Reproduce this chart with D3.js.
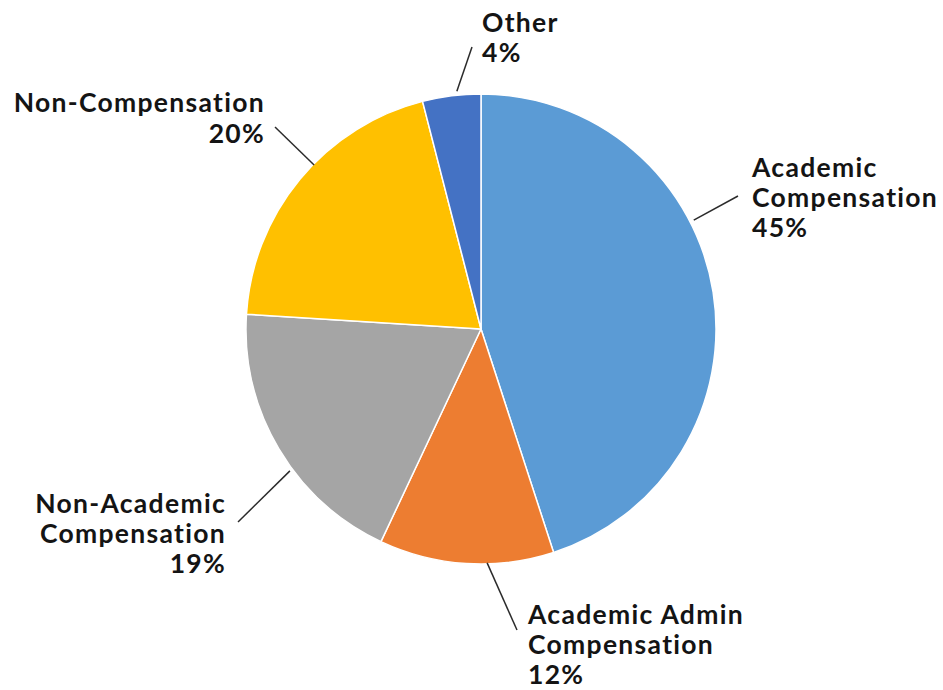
<!DOCTYPE html>
<html>
<head>
<meta charset="utf-8">
<script src="https://cdn.jsdelivr.net/npm/d3@7"></script>
<style>
  html, body { margin: 0; padding: 0; background: #ffffff; }
  svg { display: block; }
  text { font-family: Lato, "Open Sans", sans-serif; font-weight: 700; fill: #141414; }
</style>
</head>
<body>
<svg id="chart" width="943" height="690"></svg>
<script>
// ---- data ----
const categories = ["Academic Compensation", "Academic Admin Compensation", "Non-Academic Compensation", "Non-Compensation", "Other"];
const values = [45, 12, 19, 20, 4];
const colors = ["#5B9BD5", "#ED7D31", "#A5A5A5", "#FFC000", "#4472C4"];
const labelLines = [
  ["Academic", "Compensation"],
  ["Academic Admin", "Compensation"],
  ["Non-Academic", "Compensation"],
  ["Non-Compensation"],
  ["Other"]
];

// ---- layout (label placement, not data) ----
const cx = 481, cy = 329, radius = 235;
const labelLayout = [
  { angle: 62.9, r: 239, end: [738, 196], tx: 752, ty: 177, anchor: "start", lh: 30 },
  { angle: 178.5, r: 234, end: [517, 630], tx: 528, ty: 624, anchor: "start", lh: 30 },
  { angle: 233.4, r: 238, end: [238, 522], tx: 226, ty: 513, anchor: "end", lh: 30 },
  { angle: 314.5, r: 234, end: [275, 127], tx: 265, ty: 112, anchor: "end", lh: 31 },
  { angle: 354.2, r: 239, end: [472, 47], tx: 482, ty: 32, anchor: "start", lh: 30 }
];

const svg = d3.select("#chart");
const g = svg.append("g").attr("transform", `translate(${cx},${cy})`);

const pie = d3.pie().sort(null).value(d => d.value);
const data = categories.map((c, i) => ({ name: c, value: values[i], color: colors[i] }));
const arcs = pie(data);
const arc = d3.arc().innerRadius(0).outerRadius(radius);

g.selectAll("path.slice")
  .data(arcs)
  .join("path")
  .attr("class", "slice")
  .attr("d", arc)
  .attr("fill", d => d.data.color)
  .attr("stroke", "#ffffff")
  .attr("stroke-width", 1.5)
  .attr("stroke-linejoin", "round");

arcs.forEach((a, i) => {
  const L = labelLayout[i];
  const p = d3.pointRadial(L.angle * Math.PI / 180, L.r);
  svg.append("line")
    .attr("x1", cx + p[0]).attr("y1", cy + p[1])
    .attr("x2", L.end[0]).attr("y2", L.end[1])
    .attr("stroke", "#2b2b2b")
    .attr("stroke-width", 1.5);

  const lines = labelLines[i].concat([d3.format(".0f")(a.data.value) + "%"]);
  const t = svg.append("text")
    .attr("x", L.tx).attr("y", L.ty)
    .attr("text-anchor", L.anchor)
    .style("font-size", "26.5px")
    .style("letter-spacing", "1.3px");
  lines.forEach((ln, j) => {
    t.append("tspan")
      .attr("x", L.tx)
      .attr("y", L.ty + j * L.lh)
      .text(ln);
  });
});
</script>
</body>
</html>
